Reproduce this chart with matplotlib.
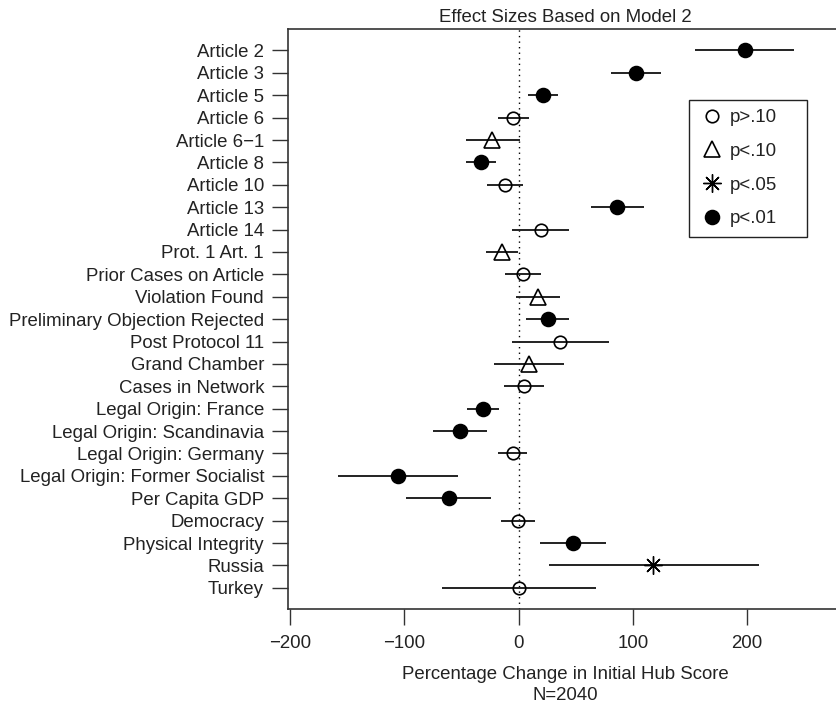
import matplotlib.pyplot as plt
from matplotlib.lines import Line2D
from matplotlib.patches import Rectangle

plt.rcParams['font.family'] = ['Liberation Sans', 'DejaVu Sans']

labels = ['Article 2', 'Article 3', 'Article 5', 'Article 6', 'Article 6\u22121',
          'Article 8', 'Article 10', 'Article 13', 'Article 14', 'Prot. 1 Art. 1',
          'Prior Cases on Article', 'Violation Found', 'Preliminary Objection Rejected',
          'Post Protocol 11', 'Grand Chamber', 'Cases in Network',
          'Legal Origin: France', 'Legal Origin: Scandinavia', 'Legal Origin: Germany',
          'Legal Origin: Former Socialist', 'Per Capita GDP', 'Democracy',
          'Physical Integrity', 'Russia', 'Turkey']
estimates = [198, 103, 21, -4.6, -23, -32.5, -12, 86, 19.6, -14.5,
             4.1, 17, 26, 36, 8.7, 4.7, -31.5, -51.4, -5.2, -105.6,
             -61.3, -0.6, 47.4, 117.4, 0]
lower = [154, 80.6, 7.8, -18.3, -45.8, -45.8, -27.5, 63, -5.8, -28.7,
         -12, -2.7, 6.9, -5.8, -21.3, -12.7, -45.2, -74.9, -17.6, -157.9,
         -98.8, -15.5, 19, 26.6, -66.6]
upper = [241.3, 124.9, 34.1, 9.3, 1, -19.5, 4.1, 109.3, 44.4, -0.3,
         19.8, 36.2, 44.4, 79, 39.4, 22.4, -17.3, -27.9, 7.5, -53.2,
         -23.8, 14, 76.9, 210.7, 67.6]
signif = ['p<.01', 'p<.01', 'p<.01', 'p>.10', 'p<.10', 'p<.01', 'p>.10', 'p<.01',
          'p>.10', 'p<.10', 'p>.10', 'p<.10', 'p<.01', 'p>.10', 'p<.10', 'p>.10',
          'p<.01', 'p<.01', 'p>.10', 'p<.01', 'p<.01', 'p>.10', 'p<.01', 'p<.05',
          'p>.10']

# marker style per significance level
styles = {
    'p>.10': dict(marker='o', mfc='none', ms=9, mew=1.2),
    'p<.10': dict(marker='^', mfc='none', ms=11, mew=1.2),
    'p<.05': dict(marker=(8, 2, 0), mfc='none', ms=13, mew=1.0),
    'p<.01': dict(marker='o', mfc='black', ms=10, mew=1.2),
}
fs = 13.4

fig = plt.figure(figsize=(8.36, 7.04), dpi=100)
ax = fig.add_axes([0.3449, 0.1345, 0.6623, 0.8243])

n = len(labels)
ypos = [n - i for i in range(n)]

ax.axvline(0, color='black', lw=1, ls=(0, (1, 3)), zorder=1)
ax.hlines(ypos, lower, upper, color='#222222', lw=1.4, zorder=2)
for y, est, s in zip(ypos, estimates, signif):
    ax.plot(est, y, ls='none', mec='black', zorder=3, **styles[s])

ax.set_xlim(-201.5, 283)
ax.set_ylim(0.04, n + 0.96)
ax.set_xticks([-200, -100, 0, 100, 200])
ax.set_yticks(ypos)
ax.set_yticklabels(labels)
ax.tick_params(length=11.5, width=1, color='#333333', labelsize=fs,
               labelcolor='#222222')
ax.tick_params(axis='y', pad=6)
ax.tick_params(axis='x', pad=7)
for sp in ax.spines.values():
    sp.set_color('#333333')
    sp.set_linewidth(1.2)

ax.set_title('Effect Sizes Based on Model 2', fontsize=fs, color='#222222', pad=5)
ax.set_xlabel('Percentage Change in Initial Hub Score\nN=2040', fontsize=fs,
              color='#222222', labelpad=10, linespacing=1.3)

# legend box drawn separately so its padding matches the original
fig.patches.append(Rectangle((689 / 836, 1 - 237 / 704), 118 / 836, 137 / 704,
                             transform=fig.transFigure, fill=False,
                             edgecolor='#222222', lw=1.0))
order = ['p>.10', 'p<.10', 'p<.05', 'p<.01']
handles = [Line2D([], [], ls='none', mec='black', **styles[s]) for s in order]
leg = ax.legend(handles, order, loc='upper left', bbox_to_anchor=(703 / 836, 1 - 109 / 704),
                bbox_transform=fig.transFigure, fontsize=fs, frameon=False,
                borderaxespad=0, borderpad=0, handlelength=1.0,
                handletextpad=0.45, labelspacing=0.9)
for t in leg.get_texts():
    t.set_color('#222222')

plt.savefig('out.png', dpi=100)
plt.close()
